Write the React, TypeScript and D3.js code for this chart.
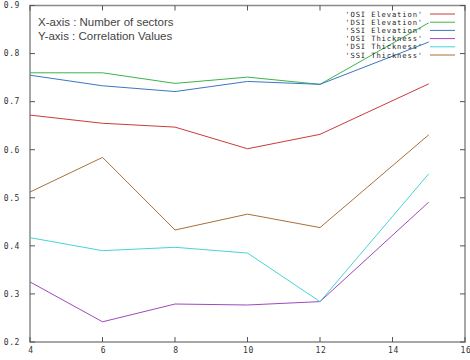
import React from 'react';
import * as d3 from 'd3';

// sectors on the x-axis
const sectors = [4, 6, 8, 10, 12, 15];

const seriesNames = [
    "'OSI Elevation'",
    "'DSI Elevation'",
    "'SSI Elevation'",
    "'OSI Thickness'",
    "'DSI Thickness'",
    "'SSI Thickness'",
];

const osiElevation = [0.672, 0.655, 0.647, 0.602, 0.632, 0.737];
const dsiElevation = [0.760, 0.760, 0.738, 0.751, 0.736, 0.864];
const ssiElevation = [0.755, 0.733, 0.721, 0.742, 0.736, 0.824];
const osiThickness = [0.325, 0.242, 0.279, 0.277, 0.284, 0.491];
const dsiThickness = [0.417, 0.390, 0.397, 0.385, 0.284, 0.550];
const ssiThickness = [0.512, 0.584, 0.433, 0.466, 0.438, 0.631];

const xTicks = [4, 6, 8, 10, 12, 14, 16];
const yTicks = [0.2, 0.3, 0.4, 0.5, 0.6, 0.7, 0.8, 0.9];

const colors = ['#c83c3c', '#3cb44a', '#3a78c0', '#a048c0', '#48d4d4', '#a8703c'];

const App = () => {
    const width = 470;
    const height = 360;
    const margin = { top: 5.5, right: 5, bottom: 18, left: 30 };

    const x = d3.scaleLinear().domain([4, 16]).range([margin.left, width - margin.right]);
    const y = d3.scaleLinear().domain([0.2, 0.9]).range([height - margin.bottom, margin.top]);

    const allSeries = [osiElevation, dsiElevation, ssiElevation, osiThickness, dsiThickness, ssiThickness];

    const line = d3.line<number>()
        .x((d, i) => x(sectors[i]))
        .y((d) => y(d));

    const mono = "'DejaVu Sans Mono', monospace";
    const tickLen = 5;

    return (
        <svg width={width} height={height} style={{ position: 'absolute', left: 0, top: 0, background: '#fff' }}>
            {/* plot frame */}
            <rect x={x(4)} y={y(0.9)} width={x(16) - x(4)} height={y(0.2) - y(0.9)}
                  fill="none" stroke="#8a8a8a" strokeWidth={1.5} />

            {/* y ticks */}
            {yTicks.map((t) => (
                <g key={'y' + t}>
                    <line x1={x(4)} x2={x(4) + tickLen} y1={y(t)} y2={y(t)} stroke="#555" />
                    <line x1={x(16)} x2={x(16) - tickLen} y1={y(t)} y2={y(t)} stroke="#555" />
                    <text x={20} y={y(t)} dy="0.35em" textAnchor="end" fontFamily={mono} fontSize={8} letterSpacing={0.6} fill="#333">
                        {t.toFixed(1)}
                    </text>
                </g>
            ))}

            {/* x ticks */}
            {xTicks.map((t) => (
                <g key={'x' + t}>
                    <line x1={x(t)} x2={x(t)} y1={y(0.2)} y2={y(0.2) - tickLen} stroke="#555" />
                    <line x1={x(t)} x2={x(t)} y1={y(0.9)} y2={y(0.9) + tickLen} stroke="#555" />
                    <text x={x(t) + 1} y={353} textAnchor="middle" fontFamily={mono} fontSize={8} letterSpacing={0.6} fill="#333">
                        {t}
                    </text>
                </g>
            ))}

            {/* series */}
            {allSeries.map((s, i) => (
                <path key={i} d={line(s) || ''} fill="none" stroke={colors[i]} strokeWidth={1} />
            ))}

            {/* annotation */}
            <text x={38} y={26} fontFamily="Arial, 'Liberation Sans', sans-serif" fontSize={11.5} fill="#444">
                X-axis : Number of sectors
            </text>
            <text x={38} y={39.5} fontFamily="Arial, 'Liberation Sans', sans-serif" fontSize={11.5} fill="#444">
                Y-axis : Correlation Values
            </text>

            {/* legend */}
            {seriesNames.map((name, i) => {
                const ly = 14 + i * 8.2;
                return (
                    <g key={name}>
                        <text x={423} y={ly} dy="0.35em" textAnchor="end" fontFamily={mono} fontSize={7.2} letterSpacing={0.85} fill="#222">
                            {name}
                        </text>
                        <line x1={430} x2={455} y1={ly} y2={ly} stroke={colors[i]} strokeWidth={1} />
                    </g>
                );
            })}
        </svg>
    );
};

export default App;
